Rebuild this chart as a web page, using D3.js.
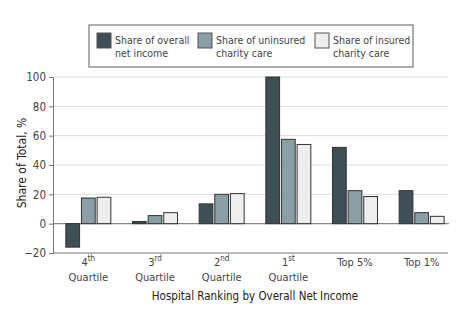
<!DOCTYPE html>
<html>
<head>
<meta charset="utf-8">
<script src="https://cdn.jsdelivr.net/npm/d3@7"></script>
<style>
  body { margin: 0; background: #fff; }
  svg { display: block; font-family: "DejaVu Sans Condensed", "DejaVu Sans", sans-serif; }
</style>
</head>
<body>
<svg id="chart" width="474" height="326"></svg>
<script>
// 数据
const categories = ["4th", "3rd", "2nd", "1st", "Top 5%", "Top 1%"];
const seriesNames = ["Share of overall net income", "Share of uninsured charity care", "Share of insured charity care"];
const netIncome = [-16, 1.5, 13.5, 100, 52, 22.5];
const uninsuredCare = [17.5, 5.5, 20, 57.5, 22.5, 7.5];
const insuredCare = [18, 7.5, 20.5, 54, 18.5, 5];
const yTicks = [-20, 0, 20, 40, 60, 80, 100];

const colors = ["#3e4f56", "#8a9ea6", "#eceeef"];
const series = [netIncome, uninsuredCare, insuredCare];

const svg = d3.select("#chart");

// 比例尺
const x = d3.scaleBand()
    .domain(categories)
    .range([55, 455])
    .padding(0);

const y = d3.scaleLinear()
    .domain([-20, 100])
    .range([253, 77]);

const xSub = d3.scaleBand()
    .domain([0, 1, 2])
    .range([0, 45])
    .paddingInner(0.12);

// 网格线
svg.append("g")
    .selectAll("line")
    .data(yTicks.filter(d => d > 0))
    .enter().append("line")
    .attr("x1", 53).attr("x2", 448)
    .attr("y1", d => y(d)).attr("y2", d => y(d))
    .attr("stroke", "#dcdcdc")
    .attr("stroke-width", 1);

// 零线
svg.append("line")
    .attr("x1", 53).attr("x2", 449)
    .attr("y1", y(0)).attr("y2", y(0))
    .attr("stroke", "#888")
    .attr("stroke-width", 1.2);

// y 轴
const yAxis = svg.append("g")
    .attr("transform", "translate(53,0)")
    .call(d3.axisLeft(y).tickValues(yTicks).tickSize(4).tickSizeOuter(0));
yAxis.select(".domain").attr("stroke", "#777");
yAxis.selectAll(".tick line").attr("stroke", "#777");
yAxis.selectAll("text")
    .attr("fill", "#444")
    .attr("font-size", 11.5)
    .attr("font-family", "DejaVu Sans Condensed, DejaVu Sans, sans-serif");

// x 轴底线
svg.append("line")
    .attr("x1", 53).attr("x2", 448)
    .attr("y1", y(-20)).attr("y2", y(-20))
    .attr("stroke", "#777")
    .attr("stroke-width", 1);

// 柱子
svg.append("g")
    .selectAll("g")
    .data(categories)
    .enter().append("g")
    .attr("transform", d => `translate(${x(d) + x.bandwidth() / 2 - 22.5},0)`)
    .selectAll("rect")
    .data((d, i) => series.map((s, k) => ({ k: k, value: s[i] })))
    .enter().append("rect")
    .attr("x", d => xSub(d.k))
    .attr("y", d => y(Math.max(0, d.value)))
    .attr("width", xSub.bandwidth())
    .attr("height", d => Math.abs(y(d.value) - y(0)))
    .attr("fill", d => colors[d.k])
    .attr("stroke", "#333")
    .attr("stroke-width", 1);

// x 轴标签
const superscripts = { "4th": ["4", "th"], "3rd": ["3", "rd"], "2nd": ["2", "nd"], "1st": ["1", "st"] };
const xLabels = svg.append("g")
    .selectAll("g")
    .data(categories)
    .enter().append("g")
    .attr("transform", d => `translate(${x(d) + x.bandwidth() / 2},0)`)
    .attr("fill", "#444")
    .attr("font-size", 11)
    .attr("text-anchor", "middle");

xLabels.each(function (d) {
    const g = d3.select(this);
    if (superscripts[d]) {
        const t = g.append("text").attr("y", 266);
        t.append("tspan").text(superscripts[d][0]);
        t.append("tspan").attr("dy", -5).attr("font-size", 8).text(superscripts[d][1]);
        g.append("text").attr("y", 281).text("Quartile");
    } else {
        g.append("text").attr("y", 266).text(d);
    }
});

// 轴标题
svg.append("text")
    .attr("x", 255).attr("y", 300)
    .attr("text-anchor", "middle")
    .attr("font-size", 11.5)
    .attr("fill", "#222")
    .text("Hospital Ranking by Overall Net Income");

svg.append("text")
    .attr("transform", "translate(26,163) rotate(-90)")
    .attr("text-anchor", "middle")
    .attr("font-size", 12)
    .attr("fill", "#222")
    .text("Share of Total, %");

// 图例
svg.append("rect")
    .attr("x", 89).attr("y", 25)
    .attr("width", 324).attr("height", 42)
    .attr("fill", "#fff")
    .attr("stroke", "#777")
    .attr("stroke-width", 1.2);

const legendLines = [["Share of overall", "net income"], ["Share of uninsured", "charity care"], ["Share of insured", "charity care"]];
const legendX = [97, 198, 315];
const legend = svg.append("g")
    .selectAll("g")
    .data(seriesNames)
    .enter().append("g")
    .attr("transform", (d, i) => `translate(${legendX[i]},33)`);

legend.append("rect")
    .attr("width", 14).attr("height", 15)
    .attr("fill", (d, i) => colors[i])
    .attr("stroke", "#555")
    .attr("stroke-width", 1);

legend.each(function (d, i) {
    const t = d3.select(this).append("text")
        .attr("font-size", 10.5)
        .attr("fill", "#444");
    t.append("tspan").attr("x", 18).attr("y", 11).text(legendLines[i][0]);
    t.append("tspan").attr("x", 18).attr("y", 24).text(legendLines[i][1]);
});
</script>
</body>
</html>
